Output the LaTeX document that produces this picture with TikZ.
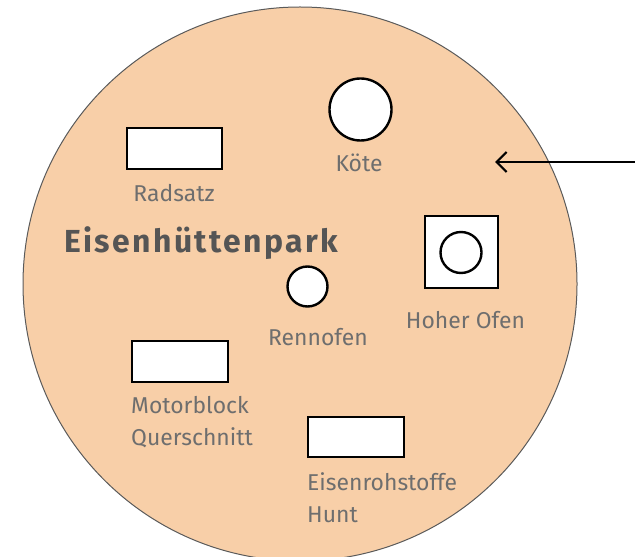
\documentclass[tikz,border=0pt]{standalone}
\usepackage{fontspec}
\setmainfont{Fira Sans}
\usetikzlibrary{arrows.meta}
\definecolor{parkfill}{RGB}{248,207,168}
\definecolor{rimgray}{RGB}{90,90,90}
\definecolor{labelgray}{RGB}{110,110,110}
\definecolor{titlegray}{RGB}{85,85,85}
\tikzset{
  park/.style={draw=rimgray, line width=1bp, fill=parkfill},
  sitebox/.style={draw=black, line width=2.4bp, fill=white},
  sitering/.style={draw=black, line width=2.4bp, fill=white},
  sitelabel/.style={text=labelgray, inner sep=0pt, font=\fontsize{23}{32}\selectfont},
  titlelabel/.style={text=titlegray, inner sep=0pt,
    font=\fontsize{32}{36}\selectfont\bfseries\addfontfeatures{LetterSpace=7.5}},
  pointer/.style={draw=black, line width=2.2bp, -{Straight Barb[length=10bp,width=20bp,line width=2.2bp]}}
}
\begin{document}
\begin{tikzpicture}[x=1bp,y=-1bp]
  \useasboundingbox (0,0) rectangle (635,557);
  % the park grounds
  \path[park] (300,284) ellipse [x radius=277, y radius=277];
  \node[titlelabel, anchor=base west] (title) at (64,253) {Eisenhüttenpark};

  % Radsatz
  \draw[sitebox] (127,128) rectangle (222,169);
  \node[sitelabel, anchor=base] (radsatz) at (174,202) {Radsatz};

  % Köte
  \draw[sitering] (360.5,109.5) circle [radius=31];
  \node[sitelabel, anchor=base] (koete) at (359,172) {Köte};

  % Rennofen
  \draw[sitering] (307.5,286.5) circle [radius=20];
  \node[sitelabel, anchor=base] (rennofen) at (318,345) {Rennofen};

  % Hoher Ofen
  \draw[sitebox] (425,216) rectangle (498,288);
  \draw[sitering] (461,252.5) circle [radius=20.5];
  \node[sitelabel, anchor=base] (hoherofen) at (465.5,328) {Hoher Ofen};

  % Motorblock (base anchor sits on the last line)
  \draw[sitebox] (132,341) rectangle (228,382);
  \node[sitelabel, anchor=base west, align=left] (motorblock) at (131,445) {Motorblock\\Querschnitt};

  % Eisenrohstoffe
  \draw[sitebox] (308,417) rectangle (404,457);
  \node[sitelabel, anchor=base west, align=left] (rohstoffe) at (307,522) {Eisenrohstoffe\\Hunt};

  % pointer from the right
  \coordinate (src) at (635,162);
  \coordinate (tip) at (495,162);
  \draw[pointer] (src) -- (tip);
\end{tikzpicture}
\end{document}
